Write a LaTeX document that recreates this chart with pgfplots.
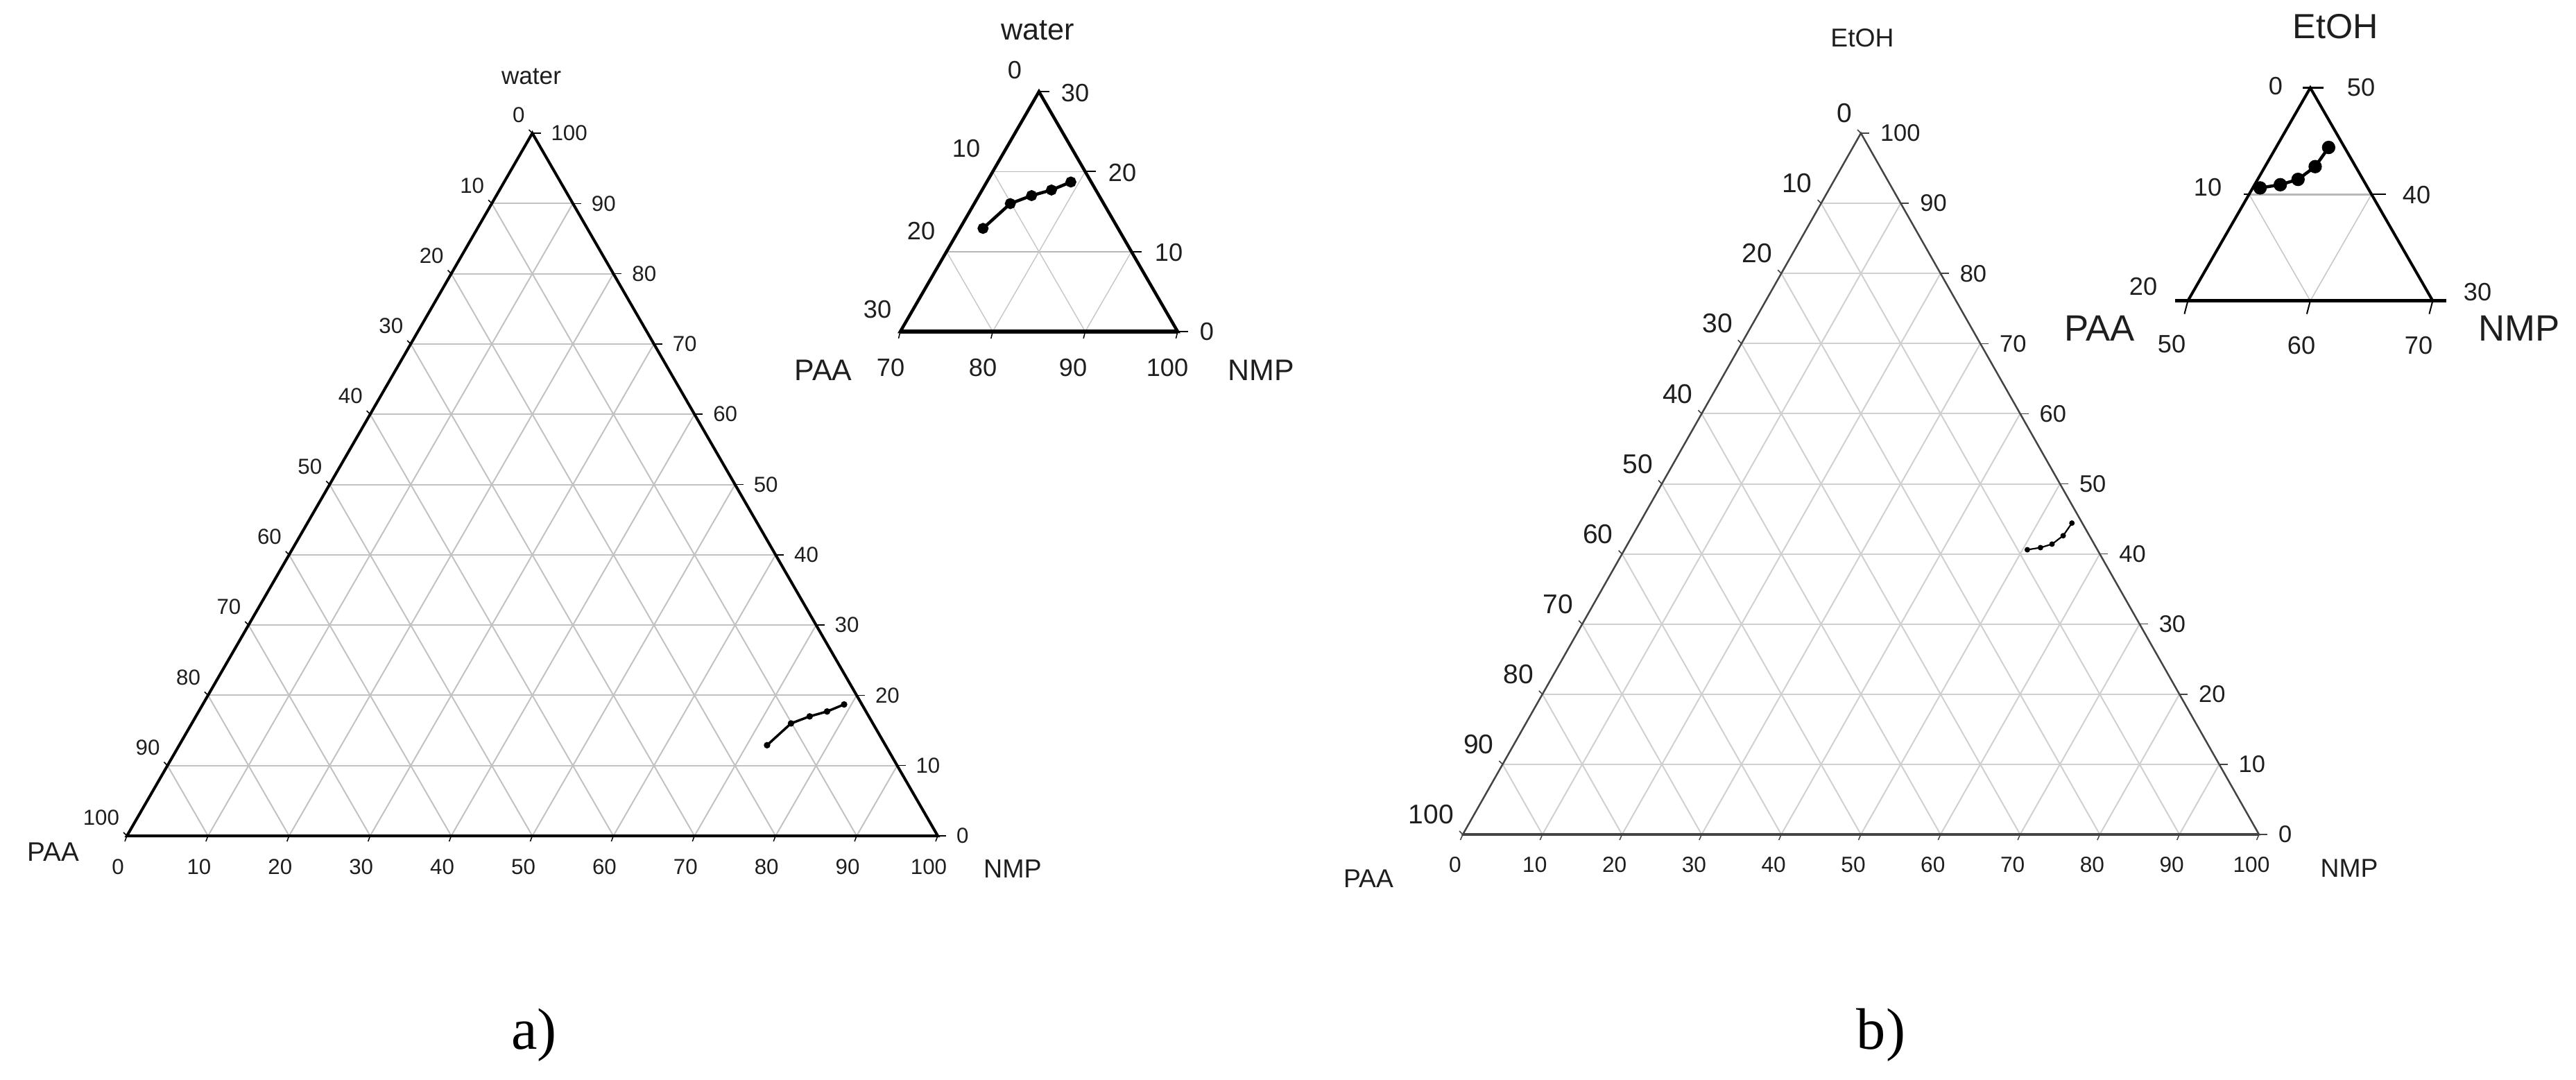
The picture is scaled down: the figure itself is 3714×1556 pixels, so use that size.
\documentclass[border=0pt]{standalone}
\usepackage{pgfplots}
\pgfplotsset{compat=1.18}
\usepackage{pgfplotstable}
\usepackage{fontspec}
\setmainfont{Liberation Sans}
\newfontfamily\capfont{Liberation Serif}

\definecolor{gridA}{HTML}{C2C2C2}
\definecolor{gridB}{HTML}{D0D0D0}
\definecolor{gridI}{HTML}{B8B8B8}
\definecolor{frameB}{HTML}{444444}
\definecolor{txt}{HTML}{1E1E1E}

% a) PAA / NMP / water  (NMP %, water %)
\pgfplotstableread{
NMP W
72.5 12.9
73.9 16.0
75.7 17.0
77.5 17.7
79.1 18.7
}\dataA
% b) PAA / NMP / EtOH  (NMP %, EtOH %)
\pgfplotstableread{
NMP E
50.6 40.6
52.1 40.9
53.3 41.4
54.1 42.6
54.3 44.4
}\dataB

\begin{document}
\begin{tikzpicture}[x=0.1mm,y=-0.1mm]
\tikzset{every node/.style={inner sep=0pt,outer sep=0pt,text=txt}}
\path[use as bounding box] (0,0) rectangle (3714,1556);

%================ main a ================
\begin{scope}[shift={(183,1205)},x=1.169mm,y=1.013mm]
\foreach \k in {10,20,...,90}{
  \draw[gridA,line width=0.2mm] (\k/2,\k) -- (100-\k/2,\k);
  \draw[gridA,line width=0.2mm] (\k,0) -- (50+\k/2,100-\k);
  \draw[gridA,line width=0.2mm] (\k,0) -- (\k/2,\k);
}
\draw[black,line width=0.4mm,line join=miter] (0,0) -- (100,0) -- (50,100) -- cycle;
\foreach \k in {0,10,...,100}{
  \draw[black,line width=0.15mm] (\k,0) -- ++(-0.3mm,-0.8mm);
  \draw[black,line width=0.15mm] (100-\k/2,\k) -- ++(1.2mm,0);
  \draw[black,line width=0.15mm] (50-\k/2,100-\k) -- ++(-0.5mm,0.5mm);
  \node[anchor=north,xshift=-1.3mm,yshift=-3.4mm,font=\fontsize{8.9}{10}\selectfont] at (\k,0) {\k};
  \node[anchor=west,xshift=2.7mm,font=\fontsize{8.9}{10}\selectfont] at (100-\k/2,\k) {\k};
  \node[anchor=south east,xshift=-1.1mm,yshift=1.5mm,font=\fontsize{8.9}{10}\selectfont] at (50-\k/2,100-\k) {\k};
}
\end{scope}
\node[font=\fontsize{10}{12}\selectfont] at (766,110) {water};
\node[font=\fontsize{11}{13}\selectfont] at (77,1228) {PAA};
\node[font=\fontsize{10.7}{13}\selectfont] at (1460,1253) {NMP};

\begin{axis}[at={(18.3mm,-120.5mm)},anchor=south west,x=1.169mm,y=1.013mm,
  xmin=0,xmax=100,ymin=0,ymax=100,enlargelimits=false,hide axis,clip=false]
\addplot[black,line width=0.35mm,mark=*,mark size=0.8pt] table[x expr=\thisrow{NMP}+0.5*\thisrow{W},y=W] {\dataA};
\end{axis}

%================ inset a ================
\begin{scope}[shift={(1298,478)},x=1.333mm,y=1.153mm]
\draw[gridI,line width=0.18mm] (5,10) -- (25,10);
\draw[gridI,line width=0.18mm] (10,20) -- (20,20);
\draw[gridI!80,line width=0.14mm] (10,0) -- (20,20);
\draw[gridI!80,line width=0.14mm] (20,0) -- (25,10);
\draw[gridI!80,line width=0.14mm] (20,0) -- (10,20);
\draw[gridI!80,line width=0.14mm] (10,0) -- (5,10);
\draw[black,line width=0.45mm,line join=miter] (0,0) -- (30,0) -- (15,30) -- cycle;
\draw[black,line width=0.55mm] (0,0) -- (30,0);
\foreach \p in {0,10,20,30}{
  \draw[black,line width=0.15mm] (\p,0) -- ++(-0.25mm,-1.0mm);
}
\foreach \p/\q in {30/0,25/10,20/20,15/30}{
  \draw[black,line width=0.2mm] (\p,\q) -- ++(1.5mm,0);
}
\end{scope}
\begin{scope}[every node/.append style={font=\fontsize{10.3}{12}\selectfont}]
\node at (1463,101) {0};
\node at (1550,134) {30};
\node at (1393,214) {10};
\node at (1328,333) {20};
\node at (1265,446) {30};
\node at (1618,249) {20};
\node at (1685,364) {10};
\node at (1740,478) {0};
\node at (1284,530) {70};
\node at (1417,530) {80};
\node at (1547,530) {90};
\node at (1683,530) {100};
\end{scope}
\node[font=\fontsize{12.3}{14}\selectfont] at (1496,44) {water};
\node[font=\fontsize{12.2}{14}\selectfont] at (1187,534) {PAA};
\node[font=\fontsize{12.2}{14}\selectfont] at (1818,534) {NMP};

\begin{axis}[at={(129.8mm,-47.8mm)},anchor=south west,x=1.333mm,y=1.153mm,
  xmin=70,xmax=100,ymin=0,ymax=30,enlargelimits=false,hide axis,clip=false]
\addplot[black,line width=0.45mm,mark=*,mark size=1.6pt] table[x expr=\thisrow{NMP}+0.5*\thisrow{W},y=W] {\dataA};
\end{axis}

%================ main b ================
\begin{scope}[shift={(2109,1203)},x=1.148mm,y=1.011mm]
\foreach \k in {10,20,...,90}{
  \draw[gridB,line width=0.2mm] (\k/2,\k) -- (100-\k/2,\k);
  \draw[gridB,line width=0.2mm] (\k,0) -- (50+\k/2,100-\k);
  \draw[gridB,line width=0.2mm] (\k,0) -- (\k/2,\k);
}
\draw[frameB,line width=0.25mm,line join=miter] (0,0) -- (100,0) -- (50,100) -- cycle;
\draw[frameB,line width=0.38mm] (0,0) -- (100,0);
\foreach \k in {0,10,...,100}{
  \draw[frameB,line width=0.15mm] (\k,0) -- ++(-0.35mm,-0.8mm);
  \draw[frameB,line width=0.15mm] (100-\k/2,\k) -- ++(1.2mm,0);
  \draw[frameB,line width=0.15mm] (50-\k/2,100-\k) -- ++(-0.5mm,0.5mm);
  \node[anchor=north,xshift=-1.1mm,yshift=-3.25mm,font=\fontsize{9}{10}\selectfont] at (\k,0) {\k};
  \node[anchor=west,xshift=2.8mm,font=\fontsize{9.8}{11}\selectfont] at (100-\k/2,\k) {\k};
  \node[anchor=south east,xshift=-1.3mm,yshift=1.5mm,font=\fontsize{11.1}{13}\selectfont] at (50-\k/2,100-\k) {\k};
}
\end{scope}
\node[font=\fontsize{10.6}{12}\selectfont] at (2685,55) {EtOH};
\node[font=\fontsize{10.6}{12}\selectfont] at (1973,1267) {PAA};
\node[font=\fontsize{10.6}{12}\selectfont] at (3387,1252) {NMP};

\begin{axis}[at={(210.9mm,-120.3mm)},anchor=south west,x=1.148mm,y=1.011mm,
  xmin=0,xmax=100,ymin=0,ymax=100,enlargelimits=false,hide axis,clip=false]
\addplot[black,line width=0.22mm,mark=*,mark size=0.8pt] table[x expr=\thisrow{NMP}+0.5*\thisrow{E},y=E] {\dataB};
\end{axis}

%================ inset b ================
\begin{scope}[shift={(3154.4,433.6)},x=1.765mm,y=1.535mm]
\draw[gridI,line width=0.3mm] (5,10) -- (15,10);
\draw[gridI!80,line width=0.15mm] (5,10) -- (10,0) -- (15,10);
\draw[black,line width=0.4mm,line join=miter] (0,0) -- (10,20) -- (20,0);
\draw[black,line width=0.45mm] (0,0) ++(-1.8mm,0) -- (20,0) -- ++(2.0mm,0);
\draw[black,line width=0.3mm] (10,20) ++(-1.1mm,0) -- ++(3.0mm,0);
\draw[black,line width=0.25mm] (15,10) -- ++(2.1mm,0);
\draw[black,line width=0.2mm] (5,10) -- ++(-0.8mm,0);
\foreach \p in {0,10,20}{
  \draw[black,line width=0.2mm] (\p,0) -- ++(-0.5mm,-1.9mm);
}
\end{scope}
\begin{scope}[every node/.append style={font=\fontsize{10.3}{12}\selectfont}]
\node at (3281,124) {0};
\node at (3404,126) {50};
\node at (3183,270) {10};
\node at (3090,413) {20};
\node at (3484,281) {40};
\node at (3572,421) {30};
\node at (3131,496) {50};
\node at (3318,498) {60};
\node at (3487,498) {70};
\end{scope}
\node[font=\fontsize{14.3}{16}\selectfont] at (3367,38) {EtOH};
\node[font=\fontsize{15}{17}\selectfont] at (3027,473) {PAA};
\node[font=\fontsize{15}{17}\selectfont] at (3632,473) {NMP};

\begin{axis}[at={(315.44mm,-43.36mm)},anchor=south west,x=1.765mm,y=1.535mm,
  xmin=65,xmax=85,ymin=30,ymax=50,enlargelimits=false,hide axis,clip=false]
\addplot[black,line width=0.45mm,mark=*,mark size=2.1pt] table[x expr=\thisrow{NMP}+0.5*\thisrow{E},y=E] {\dataB};
\end{axis}

%================ captions ================
\node[font=\capfont\fontsize{24}{28}\selectfont,text=black] at (770,1492) {a)};
\node[font=\capfont\fontsize{24}{28}\selectfont,text=black] at (2712,1492) {b)};
\end{tikzpicture}
\end{document}
